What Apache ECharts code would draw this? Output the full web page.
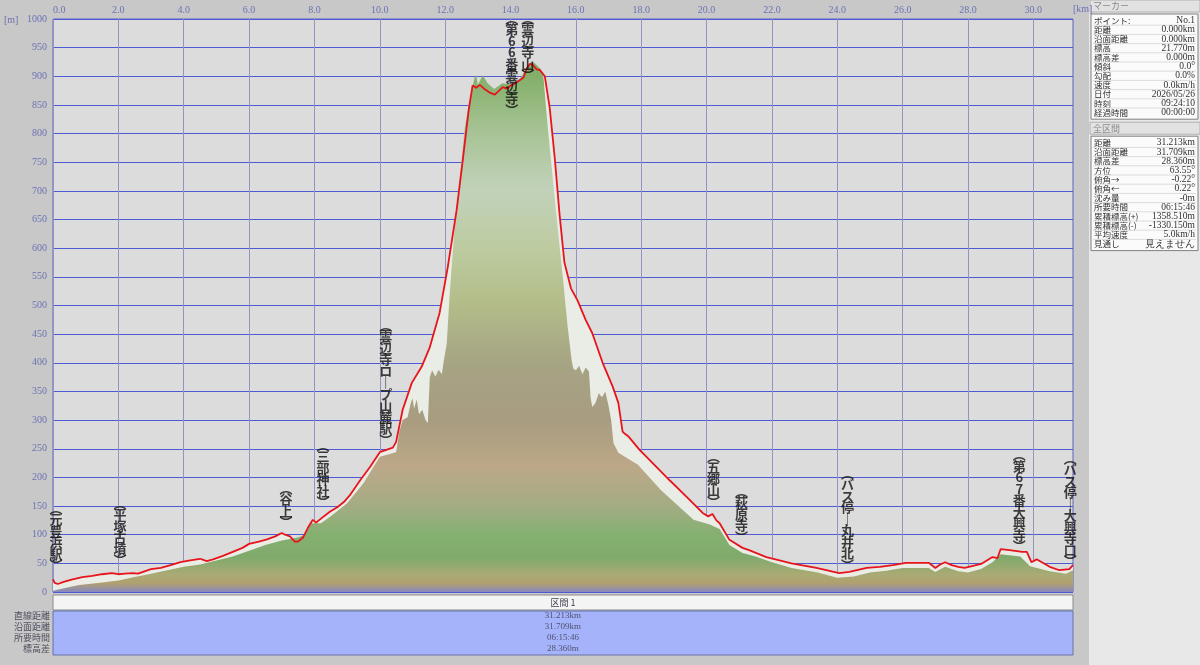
<!DOCTYPE html>
<html>
<head>
<meta charset="utf-8">
<script src="https://cdn.jsdelivr.net/npm/echarts@6/dist/echarts.min.js"></script>
<style>
  html, body { margin: 0; padding: 0; background: #c8c8c8; }
  #main { width: 1200px; height: 665px; }
</style>
</head>
<body>
<div id="main"></div>
<script>
// 軌跡の標高 (赤線)
const trackKm = [0, 0.05, 0.15, 0.35, 0.6, 0.9, 1.2, 1.5, 1.8, 2.0, 2.2, 2.45, 2.6, 2.8, 3.0, 3.3, 3.6, 3.9, 4.2, 4.5, 4.6, 4.7, 4.9, 5.2, 5.5, 5.8, 6.0, 6.3, 6.55, 6.8, 7.0, 7.1, 7.25, 7.4, 7.5, 7.65, 7.8, 7.95, 8.05, 8.2, 8.47, 8.7, 8.9, 9.1, 9.4, 9.7, 10.0, 10.2, 10.4, 10.5, 10.7, 10.98, 11.28, 11.53, 11.83, 12.08, 12.35, 12.54, 12.72, 12.84, 12.95, 13.06, 13.2, 13.35, 13.52, 13.65, 13.76, 13.9, 13.98, 14.15, 14.28, 14.4, 14.5, 14.6, 14.68, 14.8, 14.9, 15.05, 15.2, 15.35, 15.5, 15.65, 15.85, 16.05, 16.3, 16.5, 16.82, 17.13, 17.3, 17.43, 17.5, 17.6, 17.95, 18.35, 18.87, 19.39, 19.88, 20.05, 20.18, 20.3, 20.4, 20.7, 21.1, 21.3, 21.83, 22.6, 23.36, 24.06, 24.37, 24.9, 25.3, 25.7, 26.1, 26.8, 27.0, 27.15, 27.3, 27.5, 27.7, 27.9, 28.4, 28.75, 28.9, 29.0, 29.27, 29.66, 29.8, 29.94, 30.1, 30.5, 30.8, 31.1, 31.213]
const trackElev = [22, 16, 14, 18, 22, 26, 28, 31, 33, 31, 32, 33, 32, 36, 40, 42, 47, 52, 55, 58, 56, 54, 57, 63, 70, 77, 84, 88, 92, 97, 103, 100, 97, 88, 88, 95, 112, 126, 121, 128, 140, 148, 157, 170, 195, 218, 244, 248, 252, 262, 318, 365, 393, 427, 487, 567, 666, 754, 841, 884, 880, 885, 878, 872, 868, 875, 881, 878, 883, 888, 893, 898, 914, 922, 920, 912, 911, 900, 845, 760, 660, 575, 530, 509, 475, 452, 400, 358, 330, 280, 276, 272, 248, 225, 195, 166, 138, 132, 136, 125, 120, 91, 77, 73, 61, 50, 42, 33, 35, 42, 44, 47, 51, 51, 42, 48, 52, 47, 44, 42, 49, 61, 59, 75, 73, 70, 70, 52, 57, 44, 38, 40, 47]

// 地形断面 (塗りつぶし)
const groundKm = [0, 0.3, 0.8, 1.44, 2.0, 2.5, 3.0, 3.5, 4.0, 4.5, 5.0, 5.5, 6.0, 6.5, 7.0, 7.5, 7.7, 7.9, 8.2, 8.5, 9.0, 9.5, 10.0, 10.5, 10.6, 10.7, 10.85, 10.95, 11.0, 11.05, 11.13, 11.2, 11.3, 11.4, 11.47, 11.53, 11.6, 11.7, 11.8, 11.9, 11.95, 12.05, 12.14, 12.29, 12.45, 12.6, 12.75, 12.9, 12.95, 13.0, 13.15, 13.3, 13.5, 13.75, 14.0, 14.3, 14.5, 14.7, 14.9, 15.0, 15.05, 15.14, 15.29, 15.44, 15.6, 15.75, 15.87, 15.92, 16.0, 16.1, 16.2, 16.3, 16.4, 16.45, 16.5, 16.6, 16.7, 16.8, 16.9, 17.0, 17.08, 17.15, 17.3, 17.9, 18.6, 19.6, 20.1, 20.4, 20.7, 21.1, 21.5, 22.0, 22.6, 23.4, 24.0, 24.5, 25.0, 25.5, 26.0, 26.8, 27.0, 27.3, 27.7, 28.0, 28.4, 28.75, 29.0, 29.6, 29.9, 30.5, 31.0, 31.213]
const groundElev = [2, 6, 12, 16, 20, 26, 32, 38, 44, 48, 55, 62, 72, 82, 90, 95, 100, 120, 120, 132, 155, 190, 236, 244, 280, 300, 305, 330, 338, 320, 336, 310, 318, 300, 295, 375, 387, 376, 388, 380, 400, 434, 521, 637, 724, 811, 858, 898, 902, 885, 902, 888, 878, 888, 886, 896, 916, 925, 914, 905, 870, 811, 724, 637, 550, 462, 405, 390, 387, 395, 380, 392, 385, 340, 323, 330, 347, 340, 350, 325, 300, 260, 243, 222, 178, 126, 118, 110, 82, 68, 62, 52, 42, 34, 25, 27, 34, 37, 42, 42, 35, 44, 36, 34, 40, 52, 66, 62, 45, 36, 32, 38]

// 地点名 (縦書き)
const placeNames = ['元豊浜駅', '平塚古墳', '谷上', '三部神社', '雲辺寺ロープ山麓駅', '第66番雲辺寺', '雲辺寺山', '五郷山', '萩原寺', 'バス停ー丸井北', '第67番大興寺', 'バス停ー大興寺口']
const placeKm = [0.09, 2.05, 7.13, 8.26, 10.18, 14.04, 14.53, 20.21, 21.07, 24.31, 29.57, 31.13]
const placeTop = [157, 166, 192, 267, 476, 1012, 1012, 248, 187, 218, 250, 244]

// 下の区間表
const sectionTitle = '区間 1'
const sectionRows = ['直線距離', '沿面距離', '所要時間', '標高差']
const sectionValues = ['31.213km', '31.709km', '06:15:46', '28.360m']

// 右側のパネル
const markerLabels = ['ポイント:', '距離', '沿面距離', '標高', '標高差', '傾斜', '勾配', '速度', '日付', '時刻', '経過時間']
const markerValues = ['No.1', '0.000km', '0.000km', '21.770m', '0.000m', '0.0°', '0.0%', '0.0km/h', '2026/05/26', '09:24:10', '00:00:00']
const totalLabels = ['距離', '沿面距離', '標高差', '方位', '俯角→', '俯角←', '沈み量', '所要時間', '累積標高(+)', '累積標高(-)', '平均速度', '見通し']
const totalValues = ['31.213km', '31.709km', '28.360m', '63.55°', '-0.22°', '0.22°', '-0m', '06:15:46', '1358.510m', '-1330.150m', '5.0km/h', '見えません']

const JP = '"Noto Sans CJK JP", sans-serif'
const NUM = '"Liberation Serif", serif'

const zip = (xs, ys) => xs.map((x, i) => [x, ys[i]])

// 縦書き用に1文字ずつ改行
const vertical = (name) => ('(' + name + ')').split('')
  .map(c => ({ '(': '︵', ')': '︶', 'ー': '｜' }[c] || c)).join('\n')

const chartDom = document.getElementById('main')
const myChart = echarts.init(chartDom)

const graphics = []

// 右パネル
graphics.push({ type: 'rect', shape: { x: 1089, y: 0, width: 111, height: 665 }, style: { fill: '#e8e8e8' } })
const panel = (title, top, labels, values) => {
  const pitch = 9.2
  graphics.push({ type: 'rect', shape: { x: 1090, y: top, width: 110, height: 12 }, style: { fill: '#e2e2e2', stroke: '#b0b0b0', lineWidth: 1 } })
  graphics.push({ type: 'text', x: 1093, y: top + 6, style: { text: title, fill: '#8a8a8a', font: '9px ' + JP, verticalAlign: 'middle' } })
  const boxTop = top + 14
  const boxH = labels.length * pitch + 4
  graphics.push({ type: 'rect', shape: { x: 1091, y: boxTop, width: 107, height: boxH }, style: { fill: '#fbfbfb', stroke: '#808080', lineWidth: 1 } })
  labels.forEach((t, i) => {
    const y = boxTop + 2 + pitch * (i + 0.5)
    if (i > 0) {
      graphics.push({ type: 'line', shape: { x1: 1093, y1: y - pitch / 2, x2: 1196, y2: y - pitch / 2 }, style: { stroke: '#dcdcdc', lineWidth: 1 } })
    }
    graphics.push({ type: 'text', x: 1094, y: y, style: { text: t, fill: '#303030', font: '8.5px ' + JP, verticalAlign: 'middle' } })
    graphics.push({ type: 'text', x: 1195, y: y, style: { text: values[i], fill: '#303030', font: '9.5px ' + NUM, align: 'right', verticalAlign: 'middle' } })
  })
  return boxTop + boxH
}
const afterMarker = panel('マーカー', 0, markerLabels, markerValues)
panel('全区間', afterMarker + 3, totalLabels, totalValues)

// 単位
graphics.push({ type: 'text', left: 4, top: 15, style: { text: '[m]', fill: '#6b72b4', font: '10px ' + NUM } })
graphics.push({ type: 'text', left: 1073, top: 4, style: { text: '[km]', fill: '#6b72b4', font: '10px ' + NUM } })

// 区間表
graphics.push({ type: 'rect', shape: { x: 53, y: 595, width: 1020, height: 15 }, style: { fill: '#f4f4f4', stroke: '#8a8a8a', lineWidth: 1 } })
graphics.push({ type: 'text', x: 563, y: 603, style: { text: sectionTitle, fill: '#404050', font: '9px ' + JP, align: 'center', verticalAlign: 'middle' } })
graphics.push({ type: 'rect', shape: { x: 53, y: 611, width: 1020, height: 44 }, style: { fill: '#a5b4fa', stroke: '#6670a8', lineWidth: 1 } })
sectionRows.forEach((t, i) => {
  const y = 616 + i * 11
  graphics.push({ type: 'text', x: 50, y: y, style: { text: t, fill: '#505060', font: '9px ' + JP, align: 'right', verticalAlign: 'middle' } })
  graphics.push({ type: 'text', x: 563, y: y, style: { text: sectionValues[i], fill: '#505070', font: '9px ' + NUM, align: 'center', verticalAlign: 'middle' } })
})

// 標高で色分けするグラデーション (1000m → 0m)
const elevGradient = {
  type: 'linear', x: 0, y: 19, x2: 0, y2: 592, global: true,
  colorStops: [
    { offset: 0, color: '#78a65e' },
    { offset: 0.1, color: '#84af6a' },
    { offset: 0.2, color: '#a8c496' },
    { offset: 0.3, color: '#c2d2ba' },
    { offset: 0.4, color: '#bccba0' },
    { offset: 0.5, color: '#b2bc88' },
    { offset: 0.6, color: '#a6a484' },
    { offset: 0.7, color: '#a89c80' },
    { offset: 0.78, color: '#bca888' },
    { offset: 0.85, color: '#a4ac84' },
    { offset: 0.9, color: '#84b070' },
    { offset: 0.94, color: '#80aa6c' },
    { offset: 0.97, color: '#aaaa74' },
    { offset: 0.985, color: '#b0a070' },
    { offset: 1, color: '#8888c0' }
  ]
}

const option = {
  backgroundColor: '#c8c8c8',
  animation: false,
  grid: {
    left: 53, right: 127, top: 19, bottom: 73,
    show: true, backgroundColor: '#dcdcdc', borderColor: '#5a62c8', borderWidth: 1
  },
  xAxis: {
    type: 'value', position: 'top', min: 0, max: 31.213, interval: 2,
    axisLine: { show: false }, axisTick: { show: false },
    axisLabel: {
      formatter: v => v.toFixed(1), color: '#6b72b4', fontSize: 10, fontFamily: NUM,
      margin: 4, showMaxLabel: false, alignMinLabel: 'left'
    },
    splitLine: { lineStyle: { color: '#9494c2', width: 1 } }
  },
  yAxis: {
    type: 'value', min: 0, max: 1000, interval: 50,
    axisLine: { show: false }, axisTick: { show: false },
    axisLabel: { formatter: v => String(v), color: '#6b72b4', fontSize: 10, fontFamily: NUM, margin: 6 },
    splitLine: { lineStyle: { color: '#4e5ad2', width: 1 } }
  },
  series: [
    {
      // 軌跡の下の淡い塗り
      type: 'line', data: zip(trackKm, trackElev), symbol: 'none', z: 1,
      lineStyle: { width: 0 }, areaStyle: { color: '#eaede6', opacity: 1 }
    },
    {
      type: 'line', data: zip(groundKm, groundElev), symbol: 'none', z: 2,
      lineStyle: { width: 0 }, areaStyle: { color: elevGradient, opacity: 1 }
    },
    {
      type: 'line', data: zip(trackKm, trackElev), symbol: 'none', z: 3,
      lineStyle: { color: '#e8141c', width: 1.8 }
    },
    {
      type: 'scatter', symbolSize: 0, z: 4, clip: false,
      data: placeNames.map((n, i) => ({ name: n, value: [placeKm[i], placeTop[i]] })),
      label: {
        show: true, position: 'bottom', distance: 0,
        formatter: p => vertical(p.name),
        color: '#111111', fontSize: 13, fontWeight: 'bold', lineHeight: 11.5, fontFamily: JP, align: 'center'
      }
    }
  ],
  graphic: graphics
}

option && myChart.setOption(option)
</script>
</body>
</html>
